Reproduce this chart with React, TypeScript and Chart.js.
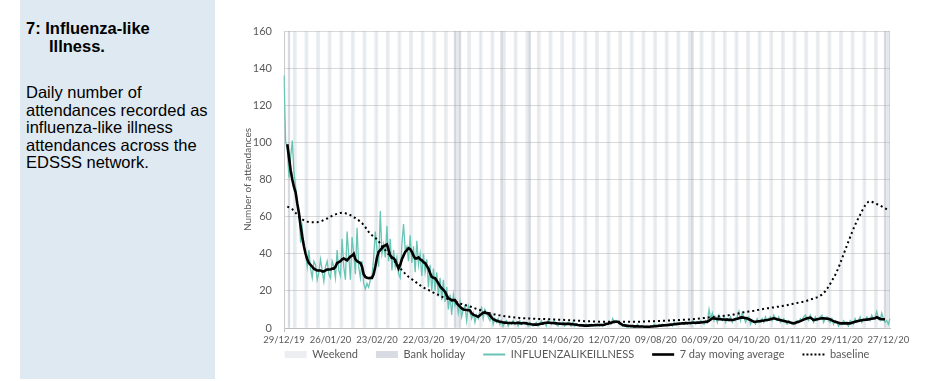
import React, { useEffect, useRef } from 'react';
import { Chart, registerables } from 'chart.js';

Chart.register(...registerables);

// 366 daily categories starting 29/12/2019
const START = { year: 2019, month: 11, day: 29 };
const DAY_COUNT = 366;

const TICK_LABELS = [
  '29/12/19', '26/01/20', '23/02/20', '22/03/20', '19/04/20', '17/05/20', '14/06/20',
  '12/07/20', '09/08/20', '06/09/20', '04/10/20', '01/11/20', '29/11/20', '27/12/20',
];

const BANK_HOLIDAYS = ['01/01/20', '10/04/20', '13/04/20', '08/05/20', '25/05/20', '31/08/20', '25/12/20', '28/12/20'];

// Daily influenza-like illness attendances (one row per week, Sun..Sat)
const ILI = [
  136, 100, 97, 81, 92, 101, 84,
  76, 68, 62, 46, 54, 44, 40,
  33, 42, 32, 27, 36, 34, 26,
  30, 37, 31, 25, 33, 36, 29,
  27, 36, 33, 27, 42, 31, 28,
  48, 33, 26, 52, 39, 26, 49,
  40, 29, 54, 33, 27, 36, 24,
  21, 24, 22, 26, 28, 38, 52,
  42, 33, 63, 40, 45, 38, 55,
  36, 48, 31, 42, 33, 38, 29,
  27, 45, 56, 42, 44, 36, 50,
  35, 44, 30, 47, 34, 40, 28,
  40, 30, 37, 22, 34, 20, 32,
  20, 30, 17, 27, 15, 26, 14,
  22, 10, 18, 7, 18, 12, 14,
  8, 14, 6, 10, 12, 4, 12,
  9, 5, 8, 3, 7, 5, 9,
  11, 5, 10, 8, 6, 4, 7,
  2, 5, 3, 5, 2, 4, 1,
  3, 4, 1, 3, 2, 4, 2,
  3, 1, 4, 2, 3, 2, 3,
  1, 3, 2, 1, 2, 3, 1,
  2, 4, 2, 3, 1, 4, 3,
  2, 3, 4, 2, 1, 3, 2,
  3, 1, 2, 3, 2, 1, 3,
  1, 2, 2, 1, 2, 1, 1,
  2, 1, 1, 2, 1, 2, 1,
  2, 1, 2, 1, 3, 2, 2,
  3, 2, 5, 3, 4, 3, 2,
  2, 1, 2, 1, 0, 1, 1,
  1, 0, 1, 2, 0, 1, 1,
  0, 1, 1, 0, 1, 1, 2,
  1, 1, 2, 1, 2, 1, 2,
  1, 2, 2, 1, 3, 2, 2,
  3, 2, 3, 2, 3, 2, 3,
  2, 4, 3, 2, 3, 3, 4,
  3, 2, 4, 3, 10, 5, 8,
  4, 6, 3, 7, 5, 4, 6,
  3, 5, 4, 6, 3, 5, 4,
  6, 9, 4, 8, 6, 3, 5,
  6, 2, 4, 3, 2, 5, 3,
  4, 5, 3, 6, 4, 5, 6,
  4, 7, 5, 4, 6, 3, 4,
  5, 3, 2, 4, 3, 2, 3,
  2, 4, 3, 5, 4, 6, 7,
  5, 4, 7, 5, 3, 6, 4,
  5, 6, 7, 3, 5, 6, 4,
  3, 5, 2, 4, 3, 1, 3,
  2, 4, 3, 2, 1, 4, 3,
  2, 5, 3, 4, 6, 3, 5,
  4, 6, 5, 4, 7, 5, 6,
  9, 5, 4, 8, 5, 3, 4,
  2, 5,
];

// 7 day moving average
const MOVING_AVG = [
  null, null, 99, 92, 85, 80, 76,
  73, 67, 62, 55, 49, 44, 40,
  37, 35, 34, 33, 32, 31.5, 31,
  31, 31, 30.5, 30.5, 31, 31.5, 31.5,
  31.5, 32, 32, 33, 35, 35.5, 36,
  37, 37.5, 37, 36.5, 37.5, 38.5, 39,
  40, 37, 36, 35.5, 35, 33, 29,
  27.5, 27, 26.8, 27, 27, 29, 33,
  38, 41, 42, 43, 44, 44.5, 45,
  42, 39, 38, 37.5, 36.5, 34, 32,
  34, 37, 39, 41, 42, 43, 42.5,
  41, 39, 37.5, 37.5, 38, 37, 36.5,
  35.5, 35, 33.5, 32, 29.5, 27.6, 27,
  26.8, 25.5, 24, 22.5, 21.4, 20.5, 19.6,
  17.5, 16, 15.5, 15, 15, 15, 13.5,
  12.4, 11.5, 10.6, 10, 9.8, 9.7, 9.6,
  9.5, 7.9, 7.2, 6.8, 6.4, 6.1, 6.8,
  7.6, 8.3, 8.2, 8, 7.9, 6.8, 5.7,
  4.7, 4.3, 3.9, 3.6, 3.4, 3.2, 3,
  2.9, 2.8, 2.7, 2.7, 2.7, 2.8, 2.6,
  2.7, 2.9, 2.6, 2.5, 2.7, 2.7, 2.5,
  2.3, 2.2, 2, 1.9, 1.8, 1.8, 1.9,
  2.1, 2.3, 2.5, 2.7, 2.8, 2.9, 2.8,
  2.7, 2.7, 2.6, 2.5, 2.4, 2.3, 2.3,
  2.2, 2.2, 2.2, 2.2, 2.2, 2.1, 2,
  1.9, 1.8, 1.6, 1.5, 1.4, 1.4, 1.3,
  1.3, 1.3, 1.4, 1.4, 1.5, 1.5, 1.6,
  1.6, 1.6, 1.6, 1.6, 1.8, 2.1, 2.3,
  2.5, 2.8, 3.1, 3.3, 3.4, 3.4, 2.8,
  2.2, 1.6, 1.4, 1.3, 1.2, 1.1, 1,
  1, 0.9, 0.9, 0.9, 0.8, 0.8, 0.8,
  0.7, 0.7, 0.7, 0.7, 0.8, 0.8, 0.9,
  1, 1.1, 1.2, 1.3, 1.4, 1.5, 1.5,
  1.6, 1.7, 1.8, 1.9, 2, 2.1, 2.2,
  2.3, 2.4, 2.5, 2.5, 2.6, 2.6, 2.7,
  2.7, 2.8, 2.8, 2.8, 2.9, 2.9, 3,
  3.1, 3.2, 3.3, 3.4, 4, 4.6, 5.2,
  5.1, 5, 4.9, 4.8, 4.7, 4.6, 4.6,
  4.5, 4.5, 4.4, 4.4, 4.3, 4.5, 4.8,
  5, 5.3, 5.6, 5.7, 5.5, 5.3, 5.2,
  4.7, 4.3, 3.8, 3.4, 3.4, 3.5, 3.6,
  3.7, 3.9, 4, 4.2, 4.3, 4.5, 4.7,
  5, 5.2, 5, 4.7, 4.5, 4.3, 4,
  3.8, 3.6, 3.4, 3.2, 2.9, 2.7, 2.5,
  2.8, 3.1, 3.4, 3.7, 4.1, 4.5, 4.9,
  5.2, 5.4, 5.6, 5, 4.3, 4.5, 4.7,
  4.9, 5.1, 5.2, 5.2, 5.1, 5, 5,
  4.6, 4.1, 3.7, 3.4, 3.1, 2.8, 2.5,
  2.5, 2.5, 2.5, 2.6, 2.5, 2.5, 2.8,
  3.1, 3.4, 3.6, 3.8, 4, 4.2, 4.3,
  4.4, 4.5, 4.6, 4.8, 5, 5.1, 5.2,
  5.8, 5.4, 5, 4.7, 4.7, 4.7, null,
  null, null,
];

// Baseline
const BASELINE = [
  null, null, 65.4, 65, 64.5, 64, 63,
  62, 61, 60, 59, 58.5, 58, 57.6,
  57.3, 57.1, 57, 57, 57, 57, 57,
  57.2, 57.5, 57.8, 58.2, 58.6, 59, 59.5,
  60, 60.4, 60.8, 61.2, 61.5, 61.8, 62,
  62.1, 62, 61.8, 61.5, 61.2, 60.8, 60.3,
  59.7, 59.2, 58.6, 58, 57.3, 56.5, 55.5,
  54.3, 53, 51.8, 50.7, 50, 49.3, 48.6,
  47.7, 46.7, 45.5, 44, 43, 42, 40.8,
  39.6, 38.5, 37.5, 36.5, 35.5, 34.5, 33.3,
  32.2, 31.2, 30.2, 29.3, 28.4, 27.6, 27,
  26.3, 25.6, 25, 24.3, 23.6, 23, 22.3,
  21.8, 21.3, 20.9, 20.5, 20, 19.6, 19.1,
  18.7, 18.2, 17.8, 17.3, 16.9, 16.5, 16.2,
  15.8, 15.5, 15.2, 14.9, 14.5, 14.2, 13.9,
  13.5, 13.2, 12.9, 12.6, 12.4, 12.1, 11.9,
  11.6, 11.3, 10.9, 10.6, 10.3, 10, 9.7,
  9.4, 9.1, 8.8, 8.5, 8.2, 7.9, 7.7,
  7.5, 7.3, 7.1, 6.9, 6.8, 6.6, 6.5,
  6.3, 6.2, 6.1, 6, 5.9, 5.8, 5.7,
  5.6, 5.5, 5.4, 5.3, 5.3, 5.2, 5.2,
  5.1, 5.1, 5, 5, 5, 4.9, 4.9,
  4.9, 4.8, 4.8, 4.8, 4.7, 4.7, 4.7,
  4.6, 4.6, 4.6, 4.5, 4.5, 4.5, 4.4,
  4.4, 4.3, 4.3, 4.2, 4.2, 4.1, 4.1,
  4, 4, 3.9, 3.9, 3.8, 3.8, 3.7,
  3.7, 3.6, 3.6, 3.6, 3.5, 3.5, 3.5,
  3.5, 3.4, 3.4, 3.4, 3.4, 3.4, 3.4,
  3.4, 3.4, 3.4, 3.4, 3.4, 3.4, 3.4,
  3.4, 3.4, 3.4, 3.4, 3.4, 3.4, 3.4,
  3.4, 3.4, 3.4, 3.4, 3.4, 3.4, 3.5,
  3.5, 3.5, 3.6, 3.6, 3.6, 3.7, 3.7,
  3.7, 3.8, 3.8, 3.8, 3.9, 3.9, 3.9,
  4, 4, 4.1, 4.1, 4.2, 4.2, 4.3,
  4.3, 4.4, 4.4, 4.5, 4.5, 4.6, 4.6,
  4.7, 4.7, 4.8, 4.9, 5, 5.1, 5.2,
  5.3, 5.4, 5.5, 5.6, 5.7, 5.8, 5.9,
  6, 6.1, 6.2, 6.3, 6.4, 6.5, 6.6,
  6.7, 6.8, 6.9, 7, 7.1, 7.3, 7.5,
  7.7, 7.9, 8.1, 8.3, 8.5, 8.6, 8.8,
  8.9, 9, 9.2, 9.3, 9.5, 9.7, 9.8,
  10, 10.1, 10.3, 10.4, 10.6, 10.7, 10.8,
  11, 11.1, 11.2, 11.4, 11.5, 11.6, 11.8,
  12, 12.1, 12.3, 12.5, 12.7, 12.9, 13.1,
  13.3, 13.5, 13.7, 13.8, 14, 14.2, 14.4,
  14.7, 15, 15.3, 15.6, 15.9, 16.2, 16.5,
  16.9, 17.4, 18, 18.8, 19.8, 21, 22.3,
  23.8, 25.3, 27, 28.6, 30.5, 32.5, 34.8,
  37.2, 39.6, 42, 44.3, 46.7, 49, 51.3,
  53.5, 55.5, 57.5, 59.3, 61, 62.8, 64.5,
  66, 67.2, 68, 68.3, 68, 67.6, 67.2,
  66.8, 66.4, 66, 65.5, 65, 64.5, 64,
  63.6, null,
];

const Y_MAX = 160;
const TEAL = '#68c4b5';
const TEXT = '#595959';
const FONT = "Lato, 'Liberation Sans', sans-serif";

const pad = (n: number) => (n < 10 ? '0' + n : '' + n);
const CATEGORIES: string[] = [];
const WEEKEND_FLAGS: boolean[] = [];
for (let i = 0; i < DAY_COUNT; i++) {
  const d = new Date(Date.UTC(START.year, START.month, START.day + i));
  CATEGORIES.push(pad(d.getUTCDate()) + '/' + pad(d.getUTCMonth() + 1) + '/' + pad(d.getUTCFullYear() % 100));
  const wd = d.getUTCDay();
  WEEKEND_FLAGS.push(wd === 0 || wd === 6);
}
const WEEKEND_BARS = WEEKEND_FLAGS.map((w) => (w ? Y_MAX : null));
const HOLIDAY_BARS = CATEGORIES.map((c) => (BANK_HOLIDAYS.includes(c) ? Y_MAX : null));

// moves the legend row closer to the axis labels, as in the original layout
const legendNudge = {
  id: 'legendNudge',
  afterLayout(chart: any) {
    const lg = chart.legend;
    if (!lg) return;
    lg.top -= 17;
    lg.bottom -= 17;
    lg.left += 13;
    lg.right += 13;
  },
};

export default function App() {
  const ref = useRef<HTMLCanvasElement>(null);

  useEffect(() => {
    if (!ref.current) return;
    const chart = new Chart(ref.current, {
      type: 'line',
      data: {
        labels: CATEGORIES,
        datasets: [
          {
            type: 'bar',
            label: 'Weekend',
            data: WEEKEND_BARS,
            backgroundColor: 'rgba(170,182,198,0.22)',
            borderWidth: 0,
            grouped: false,
            barPercentage: 1,
            categoryPercentage: 1,
            order: 5,
          } as any,
          {
            type: 'bar',
            label: 'Bank holiday',
            data: HOLIDAY_BARS,
            backgroundColor: 'rgba(150,160,176,0.38)',
            borderWidth: 0,
            grouped: false,
            barPercentage: 1,
            categoryPercentage: 1,
            order: 4,
          } as any,
          {
            type: 'line',
            label: 'INFLUENZALIKEILLNESS',
            data: ILI,
            borderColor: TEAL,
            backgroundColor: TEAL,
            borderWidth: 1.3,
            pointRadius: 0,
            tension: 0,
            order: 3,
          },
          {
            type: 'line',
            label: 'baseline',
            data: BASELINE,
            borderColor: '#000',
            backgroundColor: '#000',
            borderWidth: 2,
            borderDash: [2, 3],
            pointRadius: 0,
            tension: 0,
            order: 2,
          },
          {
            type: 'line',
            label: '7 day moving average',
            data: MOVING_AVG,
            borderColor: '#000',
            backgroundColor: '#000',
            borderWidth: 2.6,
            pointRadius: 0,
            tension: 0,
            order: 1,
          },
        ],
      },
      options: {
        responsive: false,
        animation: false,
        events: [],
        layout: { padding: { left: 0, right: 43, top: 31, bottom: 0 } },
        scales: {
          x: {
            type: 'category',
            offset: false,
            grid: {
              offset: false,
              drawOnChartArea: false,
              drawTicks: true,
              tickLength: 4,
              color: (ctx: any) => (ctx.index % 28 === 0 ? '#bfbfbf' : 'rgba(0,0,0,0)'),
            },
            border: { display: true, color: '#bfbfbf' },
            ticks: {
              autoSkip: false,
              maxRotation: 0,
              minRotation: 0,
              padding: 2,
              color: TEXT,
              font: { size: 9.5, family: FONT, lineHeight: '12px' },
              callback: (_v: any, i: number) => (i % 28 === 0 ? TICK_LABELS[i / 28] : null),
            },
          },
          y: {
            min: 0,
            max: Y_MAX,
            ticks: {
              stepSize: 20,
              padding: 12,
              color: TEXT,
              font: { size: 11, family: FONT },
            },
            grid: { color: '#d9d9d9', drawTicks: false },
            border: { display: true, color: '#d0d0d0' },
            title: {
              display: true,
              text: 'Number of attendances',
              color: TEXT,
              font: { size: 10, family: FONT },
              padding: { top: 4, bottom: 0 },
            },
            afterFit: (s: any) => {
              s.width = 46;
            },
          },
        },
        plugins: {
          tooltip: { enabled: false },
          legend: {
            position: 'bottom',
            labels: {
              usePointStyle: true,
              pointStyleWidth: 22,
              boxWidth: 22,
              boxHeight: 7,
              padding: 18,
              color: TEXT,
              font: { size: 11, family: FONT },
              generateLabels: () => [
                { text: 'Weekend', fillStyle: '#eceef2', strokeStyle: '#eceef2', lineWidth: 0, pointStyle: 'rect', hidden: false, fontColor: TEXT, datasetIndex: 0 },
                { text: 'Bank holiday', fillStyle: '#d8dce2', strokeStyle: '#d8dce2', lineWidth: 0, pointStyle: 'rect', hidden: false, fontColor: TEXT, datasetIndex: 1 },
                { text: 'INFLUENZALIKEILLNESS', fillStyle: TEAL, strokeStyle: TEAL, lineWidth: 2, pointStyle: 'line', hidden: false, fontColor: TEXT, datasetIndex: 2 },
                { text: '7 day moving average', fillStyle: '#000', strokeStyle: '#000', lineWidth: 2.6, pointStyle: 'line', hidden: false, fontColor: TEXT, datasetIndex: 4 },
                { text: 'baseline', fillStyle: '#000', strokeStyle: '#000', lineWidth: 2, lineDash: [2, 2], pointStyle: 'line', hidden: false, fontColor: TEXT, datasetIndex: 3 },
              ],
            },
          },
        },
      } as any,
      plugins: [legendNudge],
    });
    return () => chart.destroy();
  }, []);

  return (
    <div style={{ position: 'absolute', left: 0, top: 0, width: 933, height: 381, overflow: 'hidden', background: '#fff' }}>
      <div style={{ position: 'absolute', left: 20, top: 0, width: 195, height: 379, background: '#dfe9f1' }} />
      <div
        style={{
          position: 'absolute', left: 26, top: 19, whiteSpace: 'nowrap',
          font: 'bold 16.5px "Liberation Sans", Arial, sans-serif', lineHeight: '18px', color: '#000',
        }}
      >
        <div>7: Influenza-like</div>
        <div style={{ paddingLeft: 23 }}>Illness.</div>
      </div>
      <div
        style={{
          position: 'absolute', left: 26, top: 84, whiteSpace: 'nowrap',
          font: '16.5px "Liberation Sans", Arial, sans-serif', lineHeight: '17.5px', color: '#000',
        }}
      >
        Daily number of<br />
        attendances recorded as<br />
        influenza-like illness<br />
        attendances across the<br />
        EDSSS network.
      </div>
      <div style={{ position: 'absolute', left: 238, top: 0, width: 695, height: 387 }}>
        <canvas ref={ref} width={695} height={387} style={{ display: 'block', width: 695, height: 387 }} />
      </div>
    </div>
  );
}
